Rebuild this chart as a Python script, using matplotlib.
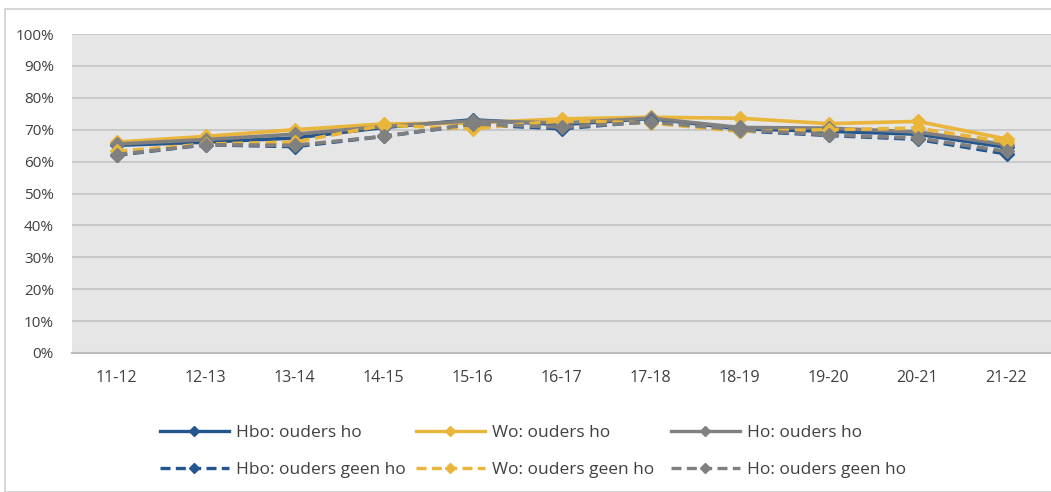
import matplotlib
matplotlib.use("Agg")
import matplotlib.pyplot as plt
from matplotlib.ticker import FuncFormatter

categories = ["11-12", "12-13", "13-14", "14-15", "15-16", "16-17", "17-18", "18-19", "19-20", "20-21", "21-22"]

hbo_ho = [65.1, 66.1, 67.4, 70.7, 73.1, 71.6, 73.5, 70.3, 69.5, 68.6, 64.5]
wo_ho = [66.1, 67.9, 70.0, 71.8, 72.1, 73.4, 73.9, 73.6, 71.9, 72.6, 67.1]
ho_ho = [65.5, 66.9, 68.6, 71.0, 72.8, 72.1, 73.6, 70.7, 70.5, 69.3, 65.3]
hbo_geen = [62.0, 65.3, 64.7, 67.9, 71.6, 70.3, 72.6, 69.7, 68.2, 67.0, 62.4]
wo_geen = [63.2, 65.5, 66.1, 71.4, 70.3, 72.8, 72.1, 69.5, 70.0, 70.5, 66.1]
ho_geen = [62.2, 65.3, 65.1, 67.9, 71.8, 70.8, 72.4, 70.0, 68.4, 67.4, 63.2]

labels = ["Hbo: ouders ho", "Wo: ouders ho", "Ho: ouders ho",
          "Hbo: ouders geen ho", "Wo: ouders geen ho", "Ho: ouders geen ho"]

BLUE = "#23568F"
YELLOW = "#E9B53A"
GRAY = "#808080"
TEXT = "#404040"

plt.rcParams['font.family'] = ['Open Sans', 'DejaVu Sans']

W, H = 1051, 492
fig = plt.figure(figsize=(W / 100, H / 100), dpi=100)
fig.patch.set_facecolor("white")
fig.add_artist(plt.Rectangle((5 / W, 0), 1, 1 - 9 / H, transform=fig.transFigure,
                             fill=False, edgecolor="#D0D0D0", linewidth=1.2))

ax = fig.add_axes([72 / W, 1 - 353 / H, (W - 72) / W, (353 - 34) / H])
ax.set_facecolor("#E6E6E6")

x = list(range(len(categories)))
DASH = (0, (3, 1.6))
series = [
    (hbo_ho, BLUE, "-"),
    (wo_ho, YELLOW, "-"),
    (ho_ho, GRAY, "-"),
    (hbo_geen, BLUE, DASH),
    (wo_geen, YELLOW, DASH),
    (ho_geen, GRAY, DASH),
]
handles = []
for (vals, c, ls), lab in zip(series, labels):
    ax.plot(x, vals, color=c, linestyle=ls, linewidth=2.6, marker="D",
            markersize=7.5, markerfacecolor=c, markeredgecolor=c, zorder=3)
    h, = ax.plot([], [], color=c, linestyle=ls, linewidth=2.4, marker="D", markersize=5,
                 markerfacecolor=c, markeredgecolor=c)
    handles.append(h)

ax.set_xlim(-0.5, len(categories) - 0.5)
ax.set_ylim(0, 100)
ax.set_yticks(range(0, 101, 10))
ax.yaxis.set_major_formatter(FuncFormatter(lambda v, p: f"{int(v)}%"))
ax.set_xticks(x)
ax.set_xticklabels(categories)
ax.grid(axis="y", color="#C4C4C4", linewidth=1.2, zorder=0)
ax.set_axisbelow(True)
for s in ["top", "right", "left"]:
    ax.spines[s].set_visible(False)
ax.spines["bottom"].set_color("#BDBDBD")
ax.spines["bottom"].set_linewidth(1.5)
ax.tick_params(axis="both", length=0, colors=TEXT)
ax.tick_params(axis="y", pad=13, labelsize=11)
ax.tick_params(axis="x", pad=12, labelsize=11.5)

col_x = [160, 416, 671]
row_y = [433, 470]
fs = 12.5
for i, (h, lab) in enumerate(zip(handles, labels)):
    r, c = divmod(i, 3)
    fig.legend([h], [lab], loc="center left",
               bbox_to_anchor=(col_x[c] / W, 1 - row_y[r] / H),
               frameon=False, fontsize=fs, handlelength=3.95, handletextpad=0.4,
               borderpad=0, borderaxespad=0, labelcolor=TEXT)

fig.savefig("out.png", dpi=100, facecolor="white")
